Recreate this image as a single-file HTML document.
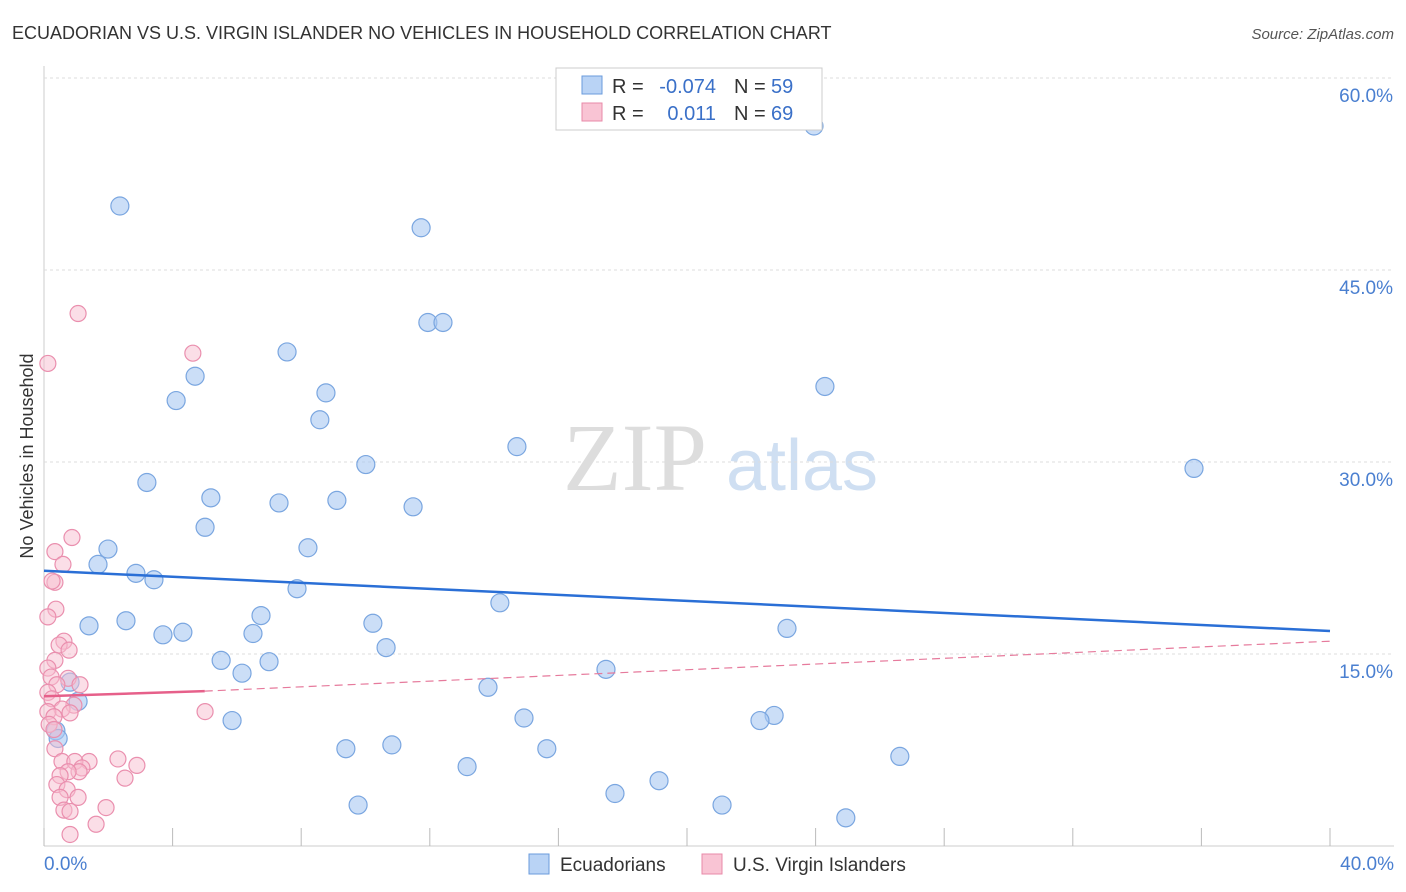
<!DOCTYPE html>
<html><head><meta charset="utf-8">
<style>
body{margin:0;background:#fff;font-family:"Liberation Sans",sans-serif}
#wrap{position:relative;width:1406px;height:892px;overflow:hidden}
</style></head><body>
<div id="wrap">
<svg id="svg" width="1406" height="892" xmlns="http://www.w3.org/2000/svg">
<text x="12" y="39" font-size="18" fill="#333">ECUADORIAN VS U.S. VIRGIN ISLANDER NO VEHICLES IN HOUSEHOLD CORRELATION CHART</text>
<text x="1394" y="39" font-size="15" fill="#555" font-style="italic" text-anchor="end">Source: ZipAtlas.com</text>
<text x="0" y="0" transform="translate(33,456) rotate(-90)" font-size="18" fill="#333" text-anchor="middle">No Vehicles in Household</text>
<g><text x="635" y="490" font-size="96" fill="#ddd" font-family="Liberation Serif,serif" text-anchor="middle">ZIP</text><text x="802" y="490" font-size="72" fill="#cfdff2" text-anchor="middle">atlas</text></g>
<g id="grid"></g><g id="marks"></g>
<g>
<rect x="556" y="68" width="266" height="62" fill="#fff" stroke="#ccc"/>
<rect x="582" y="76" width="20" height="18" fill="#b9d3f5" stroke="#6a9bdc"/>
<rect x="582" y="103" width="20" height="18" fill="#f9c4d4" stroke="#e88aa8"/>
<text x="612" y="93" font-size="20" fill="#333">R =</text>
<text x="716" y="93" font-size="20" fill="#3a70c8" text-anchor="end">-0.074</text>
<text x="734" y="93" font-size="20" fill="#333">N =</text>
<text x="771" y="93" font-size="20" fill="#3a70c8">59</text>
<text x="612" y="120" font-size="20" fill="#333">R =</text>
<text x="716" y="120" font-size="20" fill="#3a70c8" text-anchor="end">0.011</text>
<text x="734" y="120" font-size="20" fill="#333">N =</text>
<text x="771" y="120" font-size="20" fill="#3a70c8">69</text>
</g>
<g>
<rect x="529" y="854" width="20" height="20" fill="#b9d3f5" stroke="#6a9bdc"/>
<text x="560" y="871" font-size="19" fill="#333">Ecuadorians</text>
<rect x="702" y="854" width="20" height="20" fill="#f9c4d4" stroke="#e88aa8"/>
<text x="733" y="871" font-size="19" fill="#333">U.S. Virgin Islanders</text>
</g>
</svg>
</div>
<script>
const blueX=[23.95,2.36,11.73,11.94,12.41,7.56,4.70,24.29,8.77,4.11,8.58,14.71,10.01,35.77,3.20,5.19,9.11,7.31,11.48,5.01,8.21,1.99,1.68,2.86,3.42,7.87,14.18,6.75,2.55,1.40,10.23,23.11,4.32,3.70,6.50,10.64,5.51,7.00,6.16,17.48,0.81,13.81,1.06,5.85,14.93,22.71,22.27,0.37,0.44,9.39,10.82,15.64,26.62,13.16,19.13,17.76,21.09,9.77,24.94];
const blueY=[56.25,50.0,48.3,40.9,40.9,38.6,36.7,35.9,35.4,34.8,33.3,31.2,29.8,29.5,28.4,27.2,27.0,26.8,26.5,24.9,23.3,23.2,22.0,21.3,20.8,20.1,19.0,18.0,17.6,17.2,17.4,17.0,16.7,16.5,16.6,15.5,14.5,14.4,13.5,13.8,12.8,12.4,11.3,9.8,10.0,10.2,9.8,9.0,8.4,7.6,7.9,7.6,7.0,6.2,5.1,4.1,3.2,3.2,2.2];
const pinkX=[0.12,1.06,4.63,0.87,0.34,0.59,0.34,0.25,0.37,0.12,0.62,0.47,0.78,0.34,0.12,0.22,0.75,0.40,1.12,0.12,0.25,0.93,0.56,0.12,0.81,0.31,0.16,0.31,5.01,0.34,2.30,1.40,0.56,0.96,2.89,1.18,1.09,0.75,0.50,2.52,0.40,0.72,1.06,0.50,1.93,0.62,0.81,1.62,0.81];
const pinkY=[37.7,41.6,38.5,24.1,23.0,22.0,20.6,20.7,18.5,17.9,16.0,15.7,15.3,14.5,13.9,13.2,13.1,12.6,12.6,12.0,11.5,11.0,10.7,10.5,10.4,10.1,9.5,9.1,10.5,7.6,6.8,6.6,6.6,6.6,6.3,6.1,5.8,5.8,5.5,5.3,4.8,4.4,3.8,3.8,3.0,2.8,2.7,1.7,0.9];
const yTicks=[15,30,45,60];
const xTickVals=[0,4,8,12,16,20,24,28,32,36,40];
const blueTrend=[21.5,16.8];
const pinkTrend=[11.7,12.1,16.0];
const sx=v=>44+v/40*1286, sy=v=>846-v*12.8;
const NS="http://www.w3.org/2000/svg";
function mk(t,a,p){const e=document.createElementNS(NS,t);for(const k in a)e.setAttribute(k,a[k]);p.appendChild(e);return e;}
const g=document.getElementById('grid'), m=document.getElementById('marks');
mk('line',{x1:44,y1:66,x2:44,y2:846,stroke:'#ccc'},g);
mk('line',{x1:44,y1:846,x2:1394,y2:846,stroke:'#ccc'},g);
yTicks.forEach(t=>{
 const l=mk('line',{x1:44,y1:sy(t),x2:1394,y2:sy(t),stroke:'#ddd','stroke-dasharray':'3,3'},g);
 
 
 const tx=mk('text',{x:1393,y:sy(t)+24,'font-size':19,fill:'#4a7fd0','text-anchor':'end'},g);tx.textContent=t.toFixed(1)+'%';
 
 
});
xTickVals.forEach(t=>{const l=mk('line',{x1:sx(t),y1:828,x2:sx(t),y2:846,stroke:'#bbb'},g);
 
 });
[[0,'0.0%','start',44],[40,'40.0%','end',1394]].forEach(a=>{const tx=mk('text',{x:a[3],y:870,'font-size':19,fill:'#4a7fd0','text-anchor':a[2]},g);tx.textContent=a[1];
 
 });
blueX.forEach((x,i)=>{const c=mk('circle',{cx:sx(x),cy:sy(blueY[i]),r:9,fill:'rgba(168,200,242,0.6)',stroke:'#7aa6e0','stroke-width':1.2},m);
 
 });
pinkX.forEach((x,i)=>{const c=mk('circle',{cx:sx(x),cy:sy(pinkY[i]),r:8,fill:'rgba(248,190,208,0.5)',stroke:'#ea8fae','stroke-width':1.2},m);
 
 });
let l=mk('line',{x1:sx(0),y1:sy(blueTrend[0]),x2:sx(40),y2:sy(blueTrend[1]),stroke:'#2a6fd6','stroke-width':2.5},m);


l=mk('line',{x1:sx(5),y1:sy(pinkTrend[1]),x2:sx(40),y2:sy(pinkTrend[2]),stroke:'#e67a9c','stroke-width':1.2,'stroke-dasharray':'8,5'},m);


l=mk('line',{x1:sx(0),y1:sy(pinkTrend[0]),x2:sx(5),y2:sy(pinkTrend[1]),stroke:'#e6608a','stroke-width':2.5},m);


</script>
</body></html>
